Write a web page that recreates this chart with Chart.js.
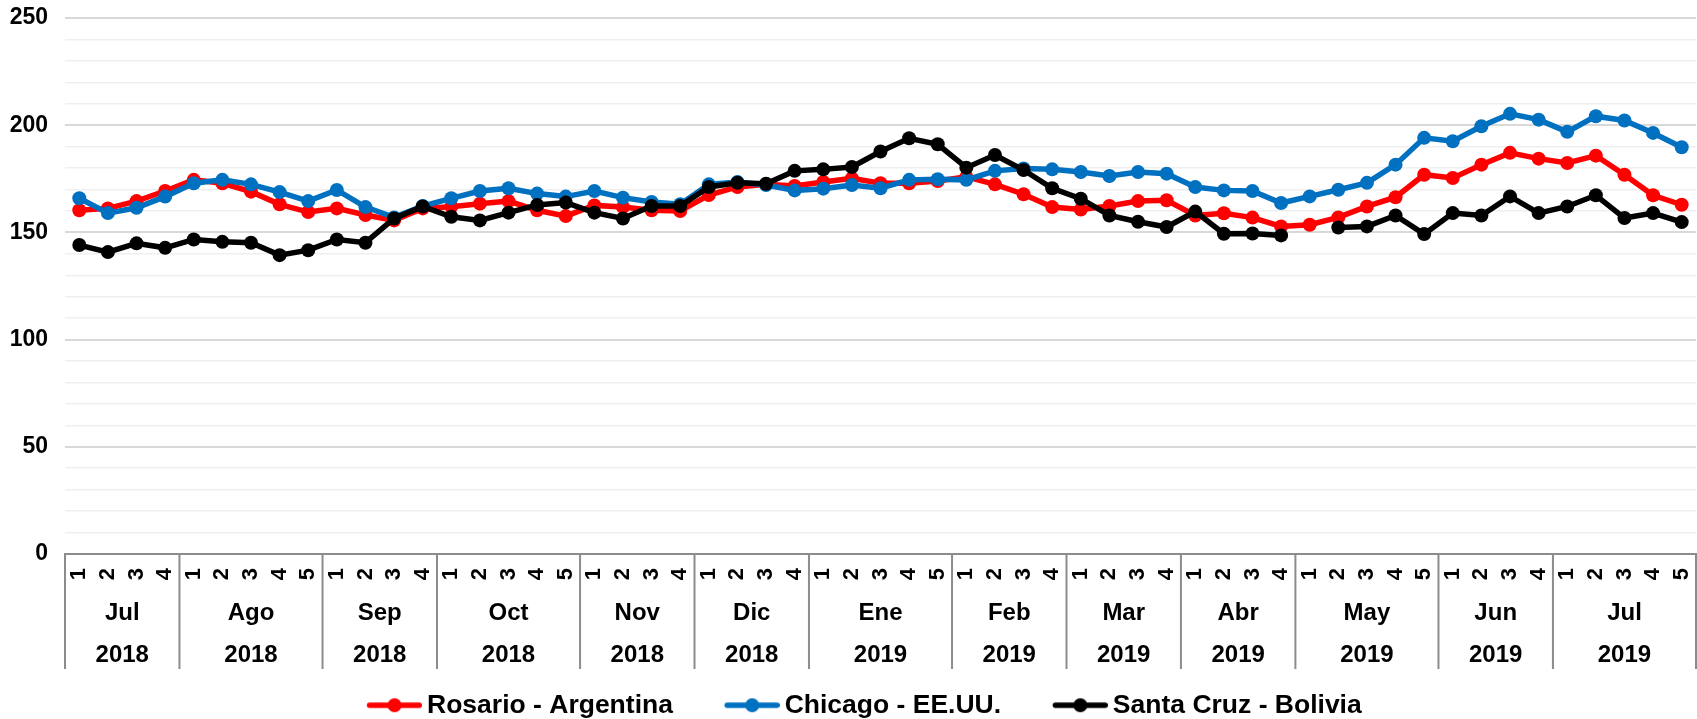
<!DOCTYPE html>
<html><head><meta charset="utf-8">
<script src="https://cdn.jsdelivr.net/npm/chart.js@4.4.1/dist/chart.umd.min.js"></script>
<style>html,body{margin:0;padding:0;background:#fff;overflow:hidden;}#wrap{width:1703px;height:719px;position:relative;}</style>
</head><body><div id="wrap"><canvas id="c"></canvas></div>
<script>
const weekLabels = ['1','2','3','4', '1','2','3','4','5', '1','2','3','4', '1','2','3','4','5', '1','2','3','4', '1','2','3','4', '1','2','3','4','5', '1','2','3','4', '1','2','3','4', '1','2','3','4', '1','2','3','4','5', '1','2','3','4', '1','2','3','4','5'];
const monthLabels = ['Jul','Ago','Sep','Oct','Nov','Dic','Ene','Feb','Mar','Abr','May','Jun','Jul'];
const monthWeekCounts = [4,5,4,5,4,4,5,4,4,4,5,4,5];
const yearLabels = ['2018','2018','2018','2018','2018','2018','2019','2019','2019','2019','2019','2019','2019'];
const yTickLabels = [0,50,100,150,200,250];

const rosario = [160.3,161.2,164.6,169.3,174.5,172.9,169.0,163.1,159.5,161.2,158.1,155.6,161.2,162.0,163.4,164.6,160.3,157.6,162.6,161.8,160.3,160.0,167.4,171.2,172.4,171.7,173.5,175.2,172.9,172.9,174.0,175.9,172.4,167.8,161.8,160.7,162.3,164.6,165.0,157.9,158.9,156.9,152.8,153.6,157.0,162.1,166.4,176.9,175.4,181.6,187.1,184.4,182.4,185.8,176.9,167.3,162.9];
const chicago = [165.9,159.0,161.5,166.7,172.9,174.5,172.4,168.8,164.6,169.8,161.8,157.0,162.3,165.9,169.3,170.6,168.1,166.7,169.3,166.2,164.2,163.1,172.4,173.5,172.1,169.6,170.4,172.1,170.6,174.5,174.8,174.5,178.7,179.8,179.4,178.2,176.3,178.2,177.4,171.2,169.6,169.3,163.7,166.8,169.9,173.1,181.6,194.1,192.5,199.5,205.3,202.6,196.9,204.2,202.2,196.4,189.7];
const santaCruz = [144.1,140.8,144.9,142.8,146.7,145.6,145.2,139.4,141.7,146.7,145.2,156.5,162.1,157.3,155.6,159.2,162.8,163.9,159.2,156.5,162.3,162.3,171.2,173.1,172.7,178.7,179.4,180.5,187.7,193.9,191.1,180.2,186.1,179.1,170.6,165.7,157.9,155.0,152.5,159.7,149.4,149.5,148.6,null,152.3,152.8,157.9,149.2,159.0,157.9,166.8,159.0,162.1,167.3,156.7,159.0,154.8];

const seriesNames = ['Rosario - Argentina','Chicago - EE.UU.','Santa Cruz - Bolivia'];
const seriesColors = ['#FF0000','#0070C0','#000000'];

const FONT = '"Liberation Sans", Arial, sans-serif';

function legendSymbol(color){
  const W = 89, H = 18;
  const c = document.createElement('canvas'); c.width = W; c.height = H;
  const g = c.getContext('2d');
  g.strokeStyle = color; g.lineWidth = 5.5; g.lineCap = 'round';
  g.beginPath(); g.moveTo(W - 52.5, H/2); g.lineTo(W - 2.75, H/2); g.stroke();
  g.fillStyle = color; g.beginPath(); g.arc(W - 27.5, H/2, 7, 0, Math.PI*2); g.fill();
  return c;
}
const legendSymbols = seriesColors.map(legendSymbol);

const groupPlugin = {
  id: 'groups',
  afterDraw(chart){
    const x = chart.scales.x, ctx = chart.ctx, top = chart.chartArea.bottom;
    const step = x.getPixelForValue(1) - x.getPixelForValue(0);
    const bounds = [x.getPixelForValue(0) - step/2];
    let idx = 0;
    monthWeekCounts.forEach(n => { idx += n; bounds.push(x.getPixelForValue(idx-1) + step/2); });
    ctx.save();
    ctx.strokeStyle = '#8c8c8c'; ctx.lineWidth = 2;
    bounds.forEach(b => { ctx.beginPath(); ctx.moveTo(b, top); ctx.lineTo(b, top + 115); ctx.stroke(); });
    ctx.fillStyle = '#000'; ctx.font = 'bold 24px ' + FONT;
    ctx.textAlign = 'center'; ctx.textBaseline = 'middle';
    monthLabels.forEach((m, i) => {
      const cx = (bounds[i] + bounds[i+1]) / 2;
      ctx.fillText(m, cx, top + 59);
      ctx.fillText(yearLabels[i], cx, top + 101);
    });
    ctx.restore();
  }
};

const mk = (data, i) => ({
  label: seriesNames[i], data,
  borderColor: seriesColors[i], backgroundColor: seriesColors[i],
  borderWidth: 5.5, pointRadius: 7, pointHoverRadius: 7, pointBorderWidth: 0,
  pointBackgroundColor: seriesColors[i], tension: 0, spanGaps: false, order: 2 - i
});

new Chart(document.getElementById('c'), {
  type: 'line',
  data: { labels: weekLabels, datasets: [mk(rosario,0), mk(chicago,1), mk(santaCruz,2)] },
  options: {
    responsive: true, maintainAspectRatio: false, animation: false,
    layout: { padding: { top: 18, left: 0, right: 0, bottom: 0 } },
    plugins: {
      tooltip: { enabled: false },
      legend: {
        position: 'bottom', maxHeight: 53,
        labels: {
          usePointStyle: true, pointStyleWidth: 72.5, padding: 26,
          font: { size: 26.5, weight: 'bold', family: FONT }, color: '#000',
          generateLabels: (chart) => chart.data.datasets.map((ds, i) => ({
            text: ds.label, fillStyle: ds.borderColor, strokeStyle: ds.borderColor,
            lineWidth: 0, pointStyle: legendSymbols[i], hidden: false, datasetIndex: i, fontColor: '#000'
          }))
        }
      }
    },
    scales: {
      x: {
        offset: true,
        grid: { drawOnChartArea: false, drawTicks: false },
        border: { display: true, color: '#8c8c8c', width: 2 },
        ticks: { autoSkip: false, minRotation: 90, maxRotation: 90, padding: 14, color: '#000',
                 font: { size: 22, weight: 'bold', family: FONT } },
        afterFit: (s) => { s.height = 112; s.paddingLeft = 0; s.paddingRight = 0; }
      },
      y: {
        min: 0, max: 250,
        border: { display: false },
        grid: { drawTicks: false,
                color: (c) => (c.tick && c.tick.value % 50 === 0) ? '#d9d9d9' : '#efefef',
                lineWidth: (c) => (c.tick && c.tick.value % 50 === 0) ? 2 : 1.5 },
        ticks: { autoSkip: false, stepSize: 10, padding: 17, color: '#000',
                 font: { size: 23, weight: 'bold', family: FONT },
                 callback: (v) => yTickLabels.includes(v) ? String(v) : '' },
        afterFit: (s) => { s.width = 65; s.paddingTop = 0; s.paddingBottom = 0; }
      }
    }
  },
  plugins: [groupPlugin]
});
</script></body></html>
